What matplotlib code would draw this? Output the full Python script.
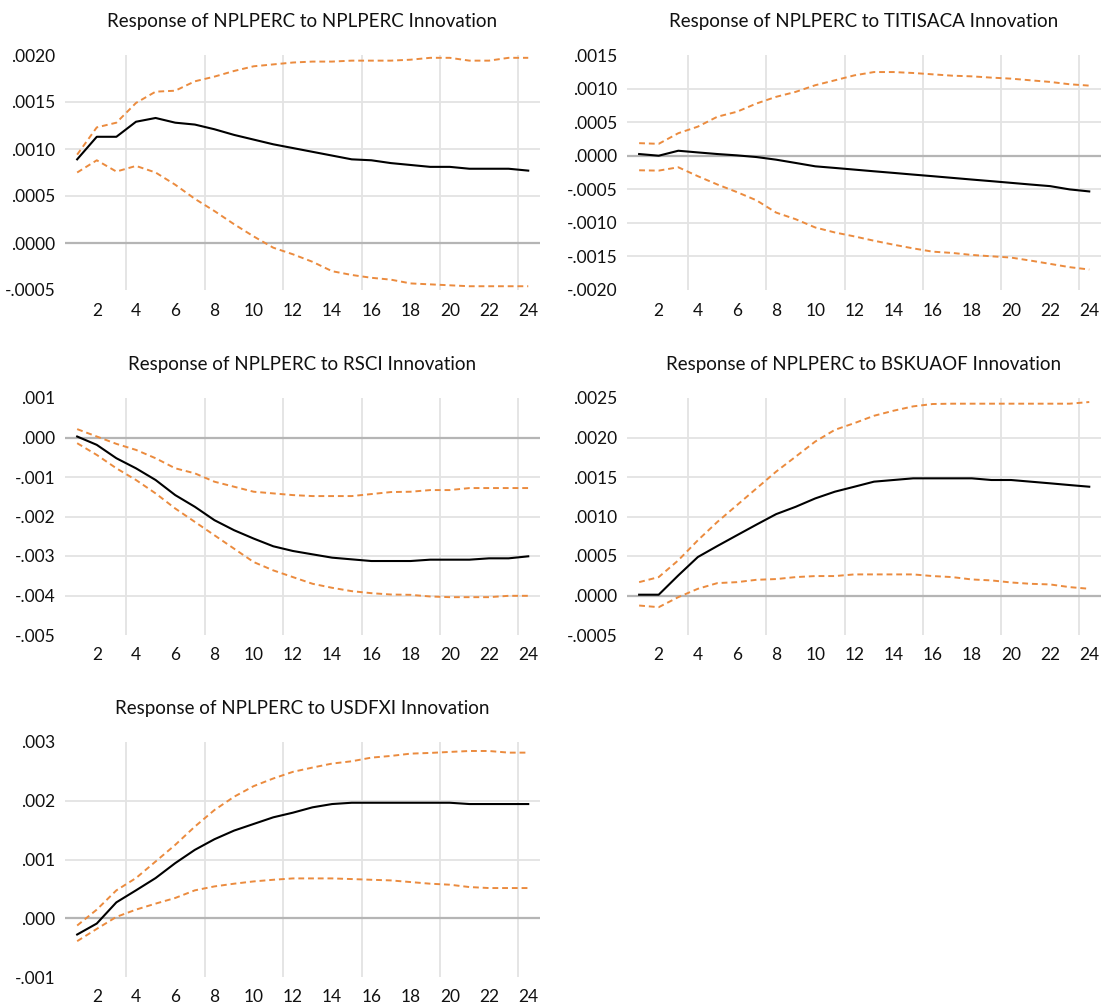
import numpy as np
import matplotlib
matplotlib.use("Agg")
import matplotlib.pyplot as plt
from matplotlib.ticker import FuncFormatter

plt.rcParams['font.family'] = ['Lato', 'DejaVu Sans']

periods = np.arange(1, 25)

# Response of NPLPERC to NPLPERC
nplperc_resp = [0.00089, 0.00113, 0.00113, 0.00129, 0.00133, 0.00128, 0.00126, 0.00121,
                0.00115, 0.00110, 0.00105, 0.00101, 0.00097, 0.00093, 0.00089, 0.00088,
                0.00085, 0.00083, 0.00081, 0.00081, 0.00079, 0.00079, 0.00079, 0.00077]
nplperc_up = [0.00094, 0.00123, 0.00128, 0.00149, 0.00161, 0.00162, 0.00172, 0.00177,
              0.00183, 0.00188, 0.00190, 0.00192, 0.00193, 0.00193, 0.00194, 0.00194,
              0.00194, 0.00195, 0.00197, 0.00197, 0.00194, 0.00194, 0.00197, 0.00197]
nplperc_lo = [0.00075, 0.00088, 0.00076, 0.00082, 0.00075, 0.00062, 0.00047, 0.00034,
              0.00020, 0.00007, -0.00005, -0.00012, -0.00020, -0.00030, -0.00034, -0.00037,
              -0.00039, -0.00043, -0.00044, -0.00045, -0.00046, -0.00046, -0.00046, -0.00046]

# Response of NPLPERC to TITISACA
titisaca_resp = [0.000025, 0.0, 0.000074, 0.000049, 0.000025, 0.000005, -0.00002, -0.000059,
                 -0.000108, -0.000158, -0.000182, -0.000207, -0.000232, -0.000256, -0.000281, -0.000305,
                 -0.00033, -0.000355, -0.000379, -0.000404, -0.000429, -0.000453, -0.000502, -0.000532]
titisaca_up = [0.000187, 0.000177, 0.000335, 0.000433, 0.000581, 0.000655, 0.000778, 0.000877,
               0.000951, 0.00105, 0.001123, 0.001197, 0.001246, 0.001246, 0.001232, 0.001212,
               0.001192, 0.001182, 0.001163, 0.001148, 0.001123, 0.001099, 0.001064, 0.001044]
titisaca_lo = [-0.000217, -0.000222, -0.000172, -0.000305, -0.000429, -0.000542, -0.000665, -0.000847,
               -0.000946, -0.001069, -0.001143, -0.001202, -0.001266, -0.001325, -0.00138, -0.001429,
               -0.001448, -0.001478, -0.001498, -0.001517, -0.001562, -0.001611, -0.00166, -0.001695]

# Response of NPLPERC to RSCI
rsci_resp = [0.000025, -0.000186, -0.000525, -0.00078, -0.001076, -0.001458, -0.001754, -0.002093,
             -0.002347, -0.002559, -0.002754, -0.002873, -0.002958, -0.003042, -0.003085, -0.003127,
             -0.003127, -0.003127, -0.003093, -0.003093, -0.003093, -0.003059, -0.003059, -0.003008]
rsci_up = [0.000212, 0.000025, -0.000161, -0.000314, -0.000525, -0.00078, -0.000907, -0.001119,
           -0.001246, -0.001373, -0.001415, -0.001458, -0.001483, -0.001483, -0.001483, -0.001432,
           -0.001381, -0.001373, -0.001331, -0.001331, -0.00128, -0.00128, -0.00128, -0.00128]
rsci_lo = [-0.000144, -0.000441, -0.00078, -0.001076, -0.001415, -0.001797, -0.002136, -0.002475,
           -0.002814, -0.003153, -0.003364, -0.003534, -0.003703, -0.003805, -0.00389, -0.003941,
           -0.003975, -0.003983, -0.004025, -0.004042, -0.004042, -0.004042, -0.004008, -0.004008]

# Response of NPLPERC to BSKUAOF
bskuaof_resp = [0.00001, 0.00001, 0.000254, 0.000487, 0.000627, 0.000763, 0.000898, 0.00103,
                0.001123, 0.001229, 0.001314, 0.001377, 0.001441, 0.001462, 0.001483, 0.001483,
                0.001483, 0.001483, 0.001462, 0.001462, 0.001441, 0.00142, 0.001398, 0.001377]
bskuaof_up = [0.000169, 0.000233, 0.000445, 0.000699, 0.000932, 0.001144, 0.001356, 0.001568,
              0.001758, 0.001949, 0.002097, 0.002182, 0.002275, 0.002339, 0.002394, 0.002424,
              0.002428, 0.002428, 0.002428, 0.002428, 0.002428, 0.002428, 0.002428, 0.002449]
bskuaof_lo = [-0.000127, -0.000148, -0.000021, 0.000085, 0.000157, 0.000169, 0.000199, 0.000208,
              0.000233, 0.000246, 0.000246, 0.000267, 0.000267, 0.000267, 0.000267, 0.000246,
              0.000233, 0.000203, 0.000191, 0.000165, 0.000148, 0.00014, 0.000106, 0.000085]

# Response of NPLPERC to USDFXI
usdfxi_resp = [-0.000277, -0.00009, 0.000271, 0.000475, 0.000684, 0.000938, 0.001164, 0.001345,
               0.001492, 0.001605, 0.001718, 0.001797, 0.001888, 0.001944, 0.001966, 0.001966,
               0.001966, 0.001966, 0.001966, 0.001966, 0.001944, 0.001944, 0.001944, 0.001944]
usdfxi_up = [-0.000124, 0.000147, 0.000475, 0.000684, 0.000966, 0.001249, 0.00156, 0.001842,
             0.002068, 0.002249, 0.002379, 0.002492, 0.002565, 0.002633, 0.002672, 0.002734,
             0.002763, 0.002802, 0.002814, 0.002831, 0.002847, 0.002847, 0.002819, 0.002819]
usdfxi_lo = [-0.00039, -0.000181, 0.000023, 0.000147, 0.000249, 0.000345, 0.000475, 0.000542,
             0.000588, 0.000627, 0.000655, 0.000678, 0.000678, 0.000678, 0.000667, 0.000655,
             0.000644, 0.000616, 0.000588, 0.000571, 0.000531, 0.000514, 0.000514, 0.000514]

titles = ["Response of NPLPERC to NPLPERC Innovation",
          "Response of NPLPERC to TITISACA Innovation",
          "Response of NPLPERC to RSCI Innovation",
          "Response of NPLPERC to BSKUAOF Innovation",
          "Response of NPLPERC to USDFXI Innovation"]
responses = [nplperc_resp, titisaca_resp, rsci_resp, bskuaof_resp, usdfxi_resp]
uppers = [nplperc_up, titisaca_up, rsci_up, bskuaof_up, usdfxi_up]
lowers = [nplperc_lo, titisaca_lo, rsci_lo, bskuaof_lo, usdfxi_lo]
y_ticks = [np.arange(-0.0005, 0.00201, 0.0005),
           np.arange(-0.0020, 0.00151, 0.0005),
           np.arange(-0.005, 0.00101, 0.001),
           np.arange(-0.0005, 0.00251, 0.0005),
           np.arange(-0.001, 0.00301, 0.001)]
decimals = [4, 4, 3, 4, 3]

# axes boxes in figure fractions (left, bottom, width, height)
W, H = 1109, 1006
cols = [(65, 540), (627, 1101)]
rows = [(55, 290), (398, 635), (742, 977)]
boxes = []
for r in rows:
    for c in cols:
        boxes.append([c[0] / W, 1 - r[1] / H, (c[1] - c[0]) / W, (r[1] - r[0]) / H])

ORANGE = '#EB8B3E'
GRID = '#e3e3e3'
ZERO = '#b5b5b5'

fig = plt.figure(figsize=(W / 100, H / 100), dpi=100)

for i in range(5):
    ax = fig.add_axes(boxes[i])
    ticks = np.round(y_ticks[i], 6)
    for t in ticks[1:-1]:
        if abs(t) < 1e-12:
            continue
        ax.axhline(t, color=GRID, lw=1.3, zorder=0)
    for v in np.arange(3.5, 24, 4):
        ax.axvline(v, color=GRID, lw=1.3, zorder=0)
    ax.axhline(0, color=ZERO, lw=1.6, zorder=1)

    ax.plot(periods, responses[i], color='black', lw=1.5, zorder=3)
    ax.plot(periods, uppers[i], color=ORANGE, lw=1.4, ls=(0, (3, 2)), zorder=2)
    ax.plot(periods, lowers[i], color=ORANGE, lw=1.4, ls=(0, (3, 2)), zorder=2)

    ax.set_xlim(0.38, 24.6)
    ax.set_ylim(ticks[0], ticks[-1])
    ax.set_xticks(np.arange(2, 25, 2))
    ax.set_yticks(ticks)
    d = decimals[i]
    ax.yaxis.set_major_formatter(FuncFormatter(
        lambda v, pos, d=d: f"{v:.{d}f}".replace("0.", ".", 1) if abs(v) > 1e-12 else "." + "0" * d))
    ax.tick_params(length=0, labelsize=12.5, colors='#111111')
    ax.tick_params(axis='y', pad=7)
    ax.tick_params(axis='x', pad=9)
    for s in ax.spines.values():
        s.set_visible(False)
    ax.set_title(titles[i], fontsize=13.5, pad=20, color='#111111')

fig.savefig("out.png", dpi=100, facecolor='white')
